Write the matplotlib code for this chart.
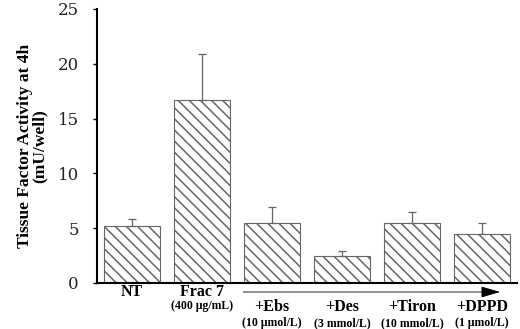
import numpy as np
import matplotlib.pyplot as plt

# bar data (mU/well)
groups = ['NT', 'Frac 7', '+Ebs', '+Des', '+Tiron', '+DPPD']
doses = ['', '(400 \u03bcg/mL)', '(10 \u03bcmol/L)', '(3 mmol/L)', '(10 mmol/L)', '(1 \u03bcmol/L)']
means = [5.2, 16.7, 5.5, 2.5, 5.5, 4.5]
upper_err = [0.65, 4.2, 1.45, 0.45, 1.0, 0.95]

plt.rcParams['hatch.linewidth'] = 1.1
plt.rcParams['hatch.color'] = '#222222'

fig = plt.figure(figsize=(5.2, 3.29), dpi=100)
ax = fig.add_axes([0.1865, 0.14, 0.8075, 0.833])

x = np.arange(len(groups))
ax.bar(x, means, width=0.8, color='white', edgecolor='#666666', linewidth=0.8,
       hatch='\\\\\\')
ax.errorbar(x, means, yerr=[np.zeros(len(means)), upper_err], fmt='none',
            ecolor='#666666', elinewidth=0.9, capsize=3, capthick=0.9)

ax.set_xlim(-0.5, 5.5)
ax.set_ylim(0, 25)
ax.set_yticks([0, 5, 10, 15, 20, 25])
ax.set_xticks([])
for s in ['top', 'right']:
    ax.spines[s].set_visible(False)
ax.spines['left'].set_linewidth(1.5)
ax.spines['bottom'].set_linewidth(1.5)
ax.tick_params(axis='y', direction='out', length=3, width=1, pad=10,
               labelsize=12, labelcolor='#222222')
for lab in ax.get_yticklabels():
    lab.set_family('DejaVu Serif')

ax.set_ylabel('Tissue Factor Activity at 4h\n(mU/well)', family='Liberation Serif',
              fontweight='bold', fontsize=12.5, labelpad=7, linespacing=0.95)

# group labels under the axis
trans = ax.get_xaxis_transform()
for i, (g, d) in enumerate(zip(groups, doses)):
    if i < 2:
        y1, y2 = -0.032, -0.085
    else:
        y1, y2 = -0.086, -0.146
    ax.text(i, y1, g, transform=trans, ha='center', va='center',
            family='Liberation Serif', fontweight='bold', fontsize=11.5)
    if d:
        ax.text(i, y2, d, transform=trans, ha='center', va='center',
                family='Liberation Serif', fontweight='bold', fontsize=8.5)

# arrow spanning the treated groups
ax.annotate('', xy=(5.3, -0.033), xytext=(1.55, -0.033), xycoords=trans,
            textcoords=trans, annotation_clip=False,
            arrowprops=dict(arrowstyle='-|>,head_length=1.2,head_width=0.35',
                            color='black', lw=0.6))

fig.savefig('out.png', dpi=100)
